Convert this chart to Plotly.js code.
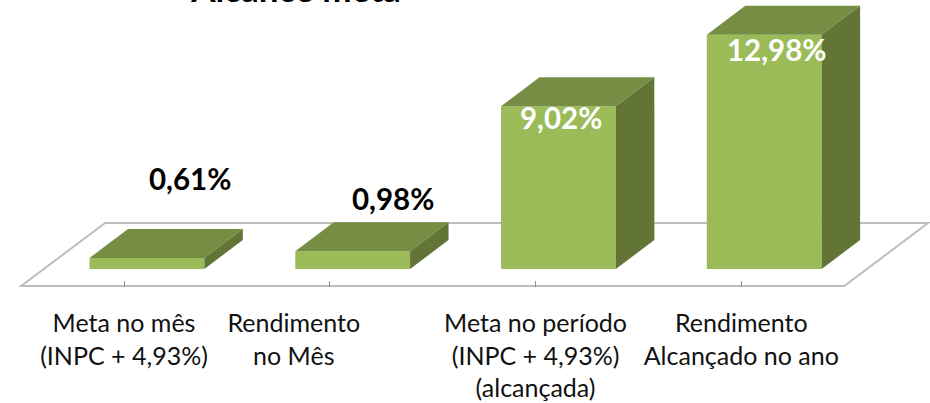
<!DOCTYPE html>
<html>
<head>
<meta charset="utf-8">
<script src="https://cdn.plot.ly/plotly-3.0.1.min.js"></script>
<style>html,body{margin:0;padding:0;background:#fff;overflow:hidden}</style>
</head>
<body>
<div id="chart" style="width:930px;height:403px"></div>
<script>
// Data
const categories = ["Meta no mês<br>(INPC + 4,93%)", "Rendimento<br>no Mês", "Meta no período<br>(INPC + 4,93%)<br>(alcançada)", "Rendimento<br>Alcançado no ano"];
const values = [0.61, 0.98, 9.02, 12.98];
const valueLabels = ["0,61%", "0,98%", "9,02%", "12,98%"];
const ticks = [0, 1, 2, 3];
const labelTicks = [0, 0.825, 2, 3];
const chartTitle = "Alcance meta";

// Styling and 3D projection (data units)
const labelColors = ["#000000", "#000000", "#ffffff", "#ffffff"];
const labelShiftX = [66, 63, 25, 36];
const labelShiftY = [79, 53, -11, -15];
const barWidth = 0.558, barOffset = -0.1677;
const depthX = 0.187, depthY = 1.607;
const front = "#9BBB59", topC = "#768D44", sideC = "#637536";
const floorY = -0.942, floorDepthX = 0.408, floorDepthY = 3.49;
const font = "Lato, 'Open Sans', sans-serif";

const traces = [{
  type: "bar", x: ticks, y: values, width: barWidth, offset: barOffset,
  marker: {color: front, line: {width: 0}}, hoverinfo: "skip", showlegend: false
}];
values.forEach((v, i) => {
  const l = ticks[i] + barOffset, r = l + barWidth;
  traces.push({type: "scatter", mode: "lines", fill: "toself", fillcolor: topC, line: {width: 0, color: topC},
    x: [l, r, r + depthX, l + depthX, l], y: [v, v, v + depthY, v + depthY, v], showlegend: false, hoverinfo: "skip"});
  traces.push({type: "scatter", mode: "lines", fill: "toself", fillcolor: sideC, line: {width: 0, color: sideC},
    x: [r, r + depthX, r + depthX, r, r], y: [0, depthY, v + depthY, v, 0], showlegend: false, hoverinfo: "skip"});
});
// invisible trace to activate the label axis
traces.push({type: "scatter", mode: "markers", x: labelTicks, y: values, xaxis: "x2", marker: {opacity: 0, size: 1}, showlegend: false, hoverinfo: "skip"});

const xRange = [-0.6027, 3.917], yRange = [-0.997, 14.903];
const layout = {
  width: 930, height: 403,
  margin: {l: 0, r: 0, t: 0, b: 116, pad: 0},
  paper_bgcolor: "#fff", plot_bgcolor: "rgba(0,0,0,0)",
  font: {family: font, color: "#000"},
  title: {text: chartTitle, font: {family: font, size: 35, color: "#000", weight: 700},
          x: 296 / 930, xanchor: "center", y: 0.995, yanchor: "bottom", xref: "paper", yref: "container"},
  xaxis: {range: xRange, tickmode: "array", tickvals: ticks, showticklabels: false, ticks: "inside", ticklen: 6, tickwidth: 1, tickcolor: "#8c8c8c", showgrid: false, zeroline: false, showline: false, fixedrange: true},
  xaxis2: {range: xRange, overlaying: "x", side: "bottom", tickmode: "array", tickvals: labelTicks, ticktext: categories, ticks: "", tickfont: {family: font, size: 25, color: "#111"}, tickangle: 0, ticklabelstandoff: 19, showgrid: false, zeroline: false, showline: false, fixedrange: true},
  yaxis: {range: yRange, visible: false, fixedrange: true},
  shapes: [{
    type: "path", xref: "x", yref: "y", layer: "below",
    path: `M ${-0.5} ${floorY} L ${3.5} ${floorY} L ${3.5 + floorDepthX} ${floorY + floorDepthY} L ${-0.5 + floorDepthX} ${floorY + floorDepthY} Z`,
    line: {color: "#bdbdbd", width: 2}, fillcolor: "rgba(0,0,0,0)"
  }],
  annotations: values.map((v, i) => ({
    x: ticks[i], y: v, xref: "x", yref: "y", text: valueLabels[i], showarrow: false,
    xshift: labelShiftX[i], yshift: labelShiftY[i], xanchor: "center", yanchor: "middle",
    font: {family: font, size: 29.5, color: labelColors[i], weight: 700}
  }))
};
Plotly.newPlot("chart", traces, layout, {displayModeBar: false, staticPlot: true});
</script>
</body>
</html>
